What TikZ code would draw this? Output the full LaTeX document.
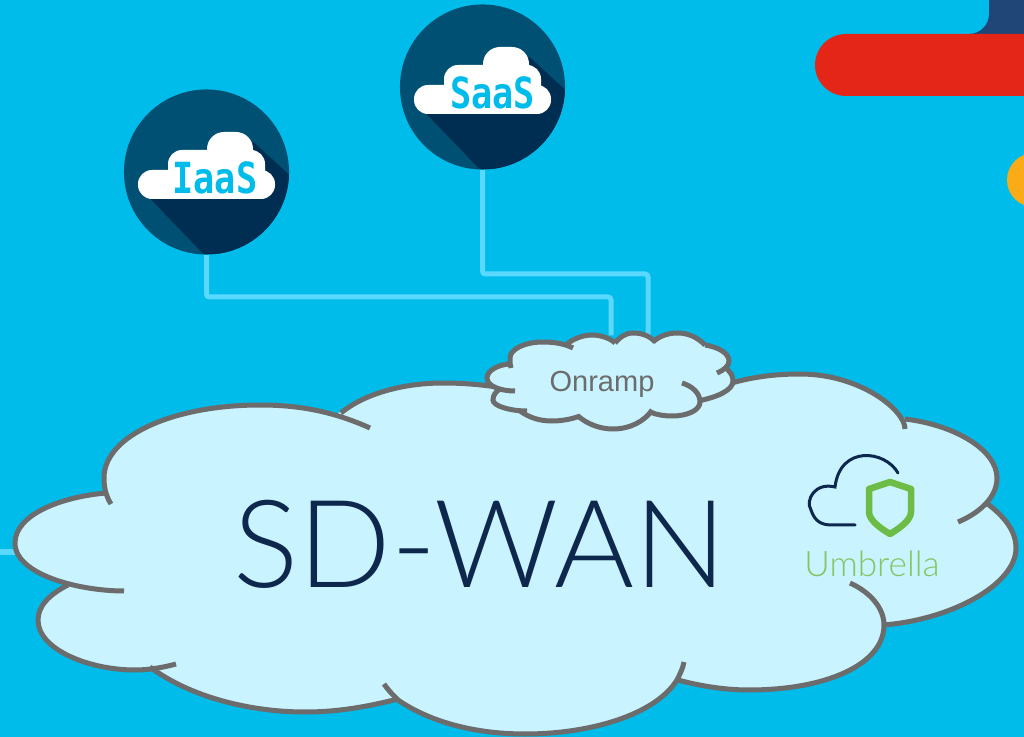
\documentclass[tikz,border=0pt]{standalone}
\usepackage{fontspec}
\setmainfont{Liberation Sans}
\newfontfamily\thinfont{Lato Light}
\newfontfamily\iconfont{DejaVu Sans Mono}
\definecolor{skyblue}{HTML}{00BCEB}
\definecolor{linkblue}{HTML}{5AD8FF}
\definecolor{cloudblue}{HTML}{C8F3FF}
\definecolor{cloudgrey}{HTML}{6C6C6C}
\definecolor{badgeblue}{HTML}{005073}
\definecolor{badgedark}{HTML}{002D52}
\definecolor{navyblue}{HTML}{0D274D}
\definecolor{barred}{HTML}{E42618}
\definecolor{barnavy}{HTML}{1F4676}
\definecolor{barorange}{HTML}{FBAB18}
\definecolor{umbrellagreen}{HTML}{6CBC45}
\tikzset{
  badge/.style={circle, fill=badgeblue, minimum size=1.65cm, inner sep=0pt, path picture={
    \begin{scope}[shift={(path picture bounding box.center)}]
      % long shadow of the cloud
      \fill[badgedark] (-56,27) -- (-3,82) -- (85,82) -- (85,5) -- (47,-30) -- (0,0) -- cycle;
      % cloud made of three rounded boxes
      \fill[white, rounded corners=.14cm] (-68.5,-2) rectangle (68.5,27);
      \fill[white, rounded corners=.14cm] (-38.5,-22) rectangle (58.5,27);
      \fill[white, rounded corners=.17cm] (0.5,-40) rectangle (46.5,0);
    \end{scope}}},
  badgetext/.style={text=skyblue, font=\iconfont\bfseries\fontsize{12.2}{14}\selectfont, xscale=.82, inner sep=0pt},
  link/.style={draw=linkblue, line width=.05cm, rounded corners=.03cm},
  cloudfill/.style={fill=cloudblue},
  cloudcore/.style={fill=cloudblue, draw=cloudblue, line width=.02cm},
  cloudline/.style={draw=cloudgrey, line width=.05cm}
}
% the lobes of the two clouds, painted once as fill and once as outline
\newcommand{\bigcloud}[1]{
  \path[#1] (370,428) .. controls (330,410) and (295,405) .. (260,405) .. controls (175,405) and (104,435) .. (104,478) .. controls (104,488) and (106,496) .. (111,504);
  \path[#1] (106,493) .. controls (60,497) and (15,515) .. (15,543) .. controls (15,575) and (80,591) .. (124,591);
  \path[#1] (68,585) .. controls (48,595) and (38,607) .. (38,620) .. controls (38,650) and (90,670) .. (135,670) .. controls (150,670) and (165,667) .. (176,664);
  \path[#1] (150,667) .. controls (190,697) and (250,712) .. (305,712) .. controls (340,712) and (370,706) .. (398,699);
  \path[#1] (384,684) .. controls (388,690) and (393,695) .. (398,700) .. controls (430,722) and (475,734) .. (525,734) .. controls (590,734) and (655,715) .. (677,680) .. controls (680,674) and (683,668) .. (684,662);
  \path[#1] (678,680) .. controls (700,686) and (725,690) .. (749,690) .. controls (825,690) and (884,665) .. (884,625) .. controls (884,608) and (870,592) .. (850,583);
  \path[#1] (883,625) .. controls (950,620) and (1016,585) .. (1016,548) .. controls (1016,530) and (1003,515) .. (985,502);
  \path[#1] (958,522) .. controls (975,515) and (997,500) .. (997,478) .. controls (997,450) and (955,425) .. (905,419);
  \path[#1] (905,429) .. controls (905,410) and (860,374) .. (800,374) .. controls (775,374) and (750,377) .. (725,385);
  \path[#1] (341,413) .. controls (365,393) and (405,383) .. (443,383) .. controls (470,383) and (495,386) .. (520,391);
}
\newcommand{\smallcloud}[1]{
  \path[#1] (573,348) .. controls (565,344) and (555,342) .. (543,342) .. controls (525,342) and (510,349) .. (510,358) .. controls (510,362) and (510,365) .. (511,368);
  \path[#1] (509,364) .. controls (497,365) and (487,371) .. (487,378) .. controls (487,386) and (500,391) .. (515,391);
  \path[#1] (500,389) .. controls (495,392) and (493,396) .. (493,400) .. controls (493,406) and (510,411) .. (527,411);
  \path[#1] (520,411) .. controls (530,418) and (540,421) .. (552,421) .. controls (562,421) and (572,419) .. (580,416);
  \path[#1] (578,416) .. controls (587,424) and (600,429) .. (613,429) .. controls (630,429) and (645,421) .. (652,410);
  \path[#1] (650,412) .. controls (657,415) and (665,416) .. (672,416) .. controls (688,416) and (700,410) .. (700,402) .. controls (700,393) and (692,386) .. (682,383);
  \path[#1] (698,401) .. controls (718,397) and (733,390) .. (733,381) .. controls (733,375) and (730,372) .. (726,368);
  \path[#1] (717,373) .. controls (724,370) and (729,366) .. (729,361) .. controls (729,353) and (718,347) .. (705,345);
  \path[#1] (705,345) .. controls (697,337) and (688,333) .. (677,333) .. controls (667,333) and (658,337) .. (653,342);
  \path[#1] (655,342) .. controls (650,336) and (642,333) .. (633,333) .. controls (625,333) and (619,338) .. (615,343);
  \path[#1] (615,343) .. controls (610,338) and (600,335) .. (592,335) .. controls (583,335) and (573,339) .. (567,344);
}
\begin{document}
\begin{tikzpicture}[x=.01cm, y=-.01cm]
    \clip (0,0) rectangle (1024,737);
    \fill[skyblue] (0,0) rectangle (1024,737);

    % Corner shapes
    \fill[barnavy] (969,34) .. controls (980,34) and (989,25) .. (989,14) -- (989,0) -- (1024,0) -- (1024,34) -- cycle;
    \fill[barred, rounded corners=.31cm] (815,34) rectangle (1100,96);
    \fill[barorange] (1034,180) circle (.27cm);

    % Badges
    \node[badge] (iaas) at (206.5,172) {};
    \node[badge] (saas) at (482.5,87) {};
    \node[badgetext] (iaaslabel) at ([shift={(8.5,5.5)}]iaas.center) {IaaS};
    \node[badgetext] (saaslabel) at ([shift={(10,5.5)}]saas.center) {SaaS};

    % Links
    \node[minimum width=2.4cm, minimum height=.9cm] (onrampcloud) at (610,381) {};
    \coordinate (iaasturn) at (611,297);
    \coordinate (saasturn) at (648,274);
    \coordinate (stubstart) at (0,552);
    \coordinate (stubend) at (20,552);
    \draw[link] (iaas.south) |- (iaasturn) -- (iaasturn |- onrampcloud.north);
    \draw[link] (saas.south) |- (saasturn) -- (saasturn |- onrampcloud.north);
    \draw[link] (stubstart) -- (stubend);

    % SD-WAN cloud
    \path[cloudcore] (106,493) -- (68,585) -- (150,667) -- (398,700) -- (678,680) -- (884,625) -- (985,502) -- (905,420) -- (725,385) -- (520,391) -- (341,413) -- cycle;
    \bigcloud{cloudfill}
    \bigcloud{cloudline}

    % Onramp cloud
    \path[cloudcore] (567,344) -- (510,363) -- (500,389) -- (520,411) -- (579,416) -- (651,411) -- (699,401) -- (725,369) -- (717,373) -- (705,345) -- (654,342) -- (615,343) -- cycle;
    \smallcloud{cloudfill}
    \smallcloud{cloudline}
    \node[text=cloudgrey, font=\fontsize{8.25}{10}\selectfont, inner sep=0pt] (onramp) at (602,384) {Onramp};

    % Main label
    \node[text=navyblue, font=\thinfont\fontsize{34.7}{40}\selectfont, inner sep=0pt] (sdwan) at (480,544) {SD-WAN};

    % Umbrella icon
    \draw[navyblue, line width=.03cm, line cap=round] (898,473) .. controls (885,450) and (840,445) .. (835,487) .. controls (815,482) and (805,500) .. (811,510) .. controls (815,522) and (822,525) .. (832,525) -- (855,525);
    \draw[umbrellagreen, line width=.065cm, line join=round] (890,482) -- (911,489) -- (911,512) .. controls (911,520) and (900,528) .. (890,534) .. controls (880,528) and (869,520) .. (869,512) -- (869,489) -- cycle;
    \node[text=umbrellagreen!85!white, font=\thinfont\fontsize{10}{12}\selectfont, inner sep=0pt] (umbrella) at (872,564) {Umbrella};
\end{tikzpicture}
\end{document}
